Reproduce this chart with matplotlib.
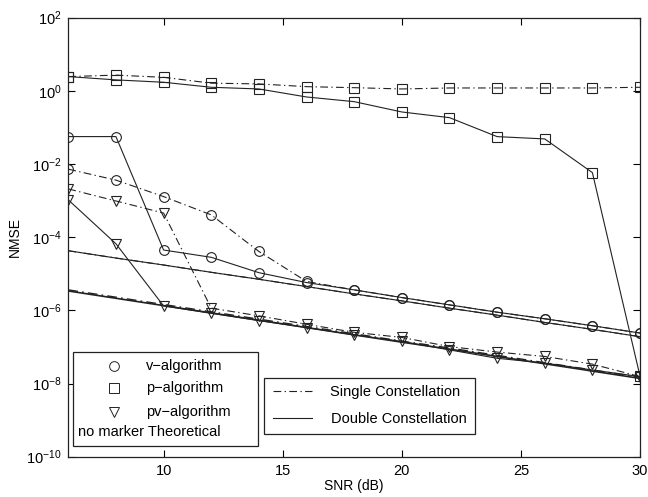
import numpy as np
import matplotlib
matplotlib.use("Agg")
import matplotlib.pyplot as plt
from matplotlib.patches import Rectangle

plt.rcParams['font.family'] = ['Liberation Sans', 'DejaVu Sans']
plt.rcParams['mathtext.fontset'] = 'custom'
plt.rcParams['mathtext.rm'] = 'Liberation Sans'
plt.rcParams['mathtext.it'] = 'Liberation Sans'

snr = [6, 8, 10, 12, 14, 16, 18, 20, 22, 24, 26, 28, 30]

# log10 of NMSE values
v_single_log = [-2.14, -2.44, -2.89, -3.39, -4.39, -5.21, -5.44, -5.65, -5.85, -6.05, -6.23, -6.42, -6.62]
v_double_log = [-1.25, -1.25, -4.35, -4.55, -4.97, -5.24, -5.44, -5.65, -5.85, -6.05, -6.23, -6.42, -6.62]
p_single_log = [0.39, 0.43, 0.37, 0.21, 0.19, 0.115, 0.087, 0.052, 0.079, 0.079, 0.079, 0.079, 0.098]
p_double_log = [0.39, 0.30, 0.235, 0.098, 0.052, -0.167, -0.295, -0.577, -0.732, -1.251, -1.314, -2.235, -7.80]
pv_single_log = [-2.68, -3.01, -3.34, -5.94, -6.15, -6.38, -6.60, -6.74, -6.99, -7.14, -7.26, -7.47, -7.81]
pv_double_log = [-2.98, -4.18, -5.88, -6.08, -6.28, -6.47, -6.67, -6.85, -7.08, -7.31, -7.44, -7.63, -7.81]
v_theory_log = [-4.37, -4.57, -4.76, -4.96, -5.15, -5.35, -5.55, -5.74, -5.94, -6.13, -6.33, -6.52, -6.72]
pv_theory_single_log = [-5.44, -5.64, -5.84, -6.04, -6.24, -6.44, -6.64, -6.84, -7.03, -7.23, -7.43, -7.63, -7.83]
pv_theory_double_log = [-5.47, -5.67, -5.87, -6.07, -6.27, -6.47, -6.67, -6.87, -7.06, -7.26, -7.46, -7.66, -7.86]

xticks = [10, 15, 20, 25, 30]
yticks_exp = [-10, -8, -6, -4, -2, 0, 2]

def p10(a):
    return 10.0 ** np.array(a)

fig = plt.figure(figsize=(6.48, 4.97), dpi=100)
ax = fig.add_axes([0.1054, 0.0811, 0.9877 - 0.1054, 0.9644 - 0.0811])

col = '#222222'
lw = 0.8
dd = (0, (7, 3, 1.2, 3))
mk = dict(markersize=7, fillstyle='none', markeredgewidth=0.8, color=col, linewidth=lw)

# theoretical (no marker)
ax.plot(snr, p10(v_theory_log), '-', color=col, lw=lw)
ax.plot(snr, p10(v_theory_log), linestyle=dd, color=col, lw=lw)
ax.plot(snr, p10(pv_theory_double_log), '-', color=col, lw=1.2)
ax.plot(snr, p10(pv_theory_single_log), linestyle=dd, color=col, lw=1.0)

# algorithms
ax.plot(snr, p10(v_single_log), marker='o', linestyle=dd, **mk)
ax.plot(snr, p10(v_double_log), marker='o', linestyle='-', **mk)
ax.plot(snr, p10(p_single_log), marker='s', linestyle=dd, **mk)
ax.plot(snr, p10(p_double_log), marker='s', linestyle='-', **mk)
ax.plot(snr, p10(pv_single_log), marker='v', linestyle=dd, **mk)
ax.plot(snr, p10(pv_double_log), marker='v', linestyle='-', **mk)

ax.set_yscale('log')
ax.set_xlim(6, 30)
ax.set_ylim(1e-10, 1e2)
ax.set_xticks(xticks)
ax.set_xticklabels([str(t) for t in xticks])
ax.set_yticks([10.0 ** e for e in yticks_exp])
ax.set_yticklabels([r'$\mathregular{10^{%d}}$' % e for e in yticks_exp])
ax.minorticks_off()
ax.tick_params(direction='in', top=True, right=True, length=5, width=0.8,
               labelsize=10.5, colors='black', pad=5)
for s in ax.spines.values():
    s.set_linewidth(0.9)
    s.set_color('#222222')
ax.set_xlabel('SNR (dB)', fontsize=10, labelpad=1)
ax.set_ylabel('NMSE', fontsize=10, labelpad=3)

# Legend 1 (markers)
T = ax.transAxes
W, H = 648 * (0.9877 - 0.1054), 497 * (0.9644 - 0.0811)
x0ax, y0ax = 68.3, 456.7
def ax_xy(px, py):
    return ((px - x0ax) / W, (y0ax - py) / H)

bx0, by0 = ax_xy(73.3, 446)
bx1, by1 = ax_xy(257.7, 351.7)
ax.add_patch(Rectangle((bx0, by0), bx1 - bx0, by1 - by0, transform=T,
                       facecolor='white', edgecolor='#222222', lw=0.9, zorder=5))
rows1 = [365.7, 388.3, 411.7]
marks = ['o', 's', 'v']
labels1 = ['v\u2212algorithm', 'p\u2212algorithm', 'pv\u2212algorithm']
for py, m, lab in zip(rows1, marks, labels1):
    mx, my = ax_xy(114, py)
    ax.plot([mx], [my], marker=m, transform=T, markersize=7, fillstyle='none',
            markeredgewidth=0.7, color=col, zorder=6, clip_on=False)
    tx, ty = ax_xy(146, py)
    ax.text(tx, ty, lab, transform=T, fontsize=10.5, va='center', ha='left', zorder=6)
tx, ty = ax_xy(78, 432.3)
ax.text(tx, ty, 'no marker Theoretical', transform=T, fontsize=10.5, va='center', ha='left', zorder=6)

# Legend 2 (line styles)
cx0, cy0 = ax_xy(264, 434)
cx1, cy1 = ax_xy(475, 378.3)
ax.add_patch(Rectangle((cx0, cy0), cx1 - cx0, cy1 - cy0, transform=T,
                       facecolor='white', edgecolor='#222222', lw=0.9, zorder=5))
for py, ls, lab, tpx in [(391, dd, 'Single Constellation', 330),
                         (418, '-', 'Double Constellation', 331.5)]:
    lx0, ly = ax_xy(273, py)
    lx1, _ = ax_xy(312, py)
    ax.plot([lx0, lx1], [ly, ly], linestyle=ls, color=col, lw=lw, transform=T, zorder=6)
    tx, ty = ax_xy(tpx, py + 1)
    ax.text(tx, ty, lab, transform=T, fontsize=10.5, va='center', ha='left', zorder=6)

fig.savefig('out.png', dpi=100)
